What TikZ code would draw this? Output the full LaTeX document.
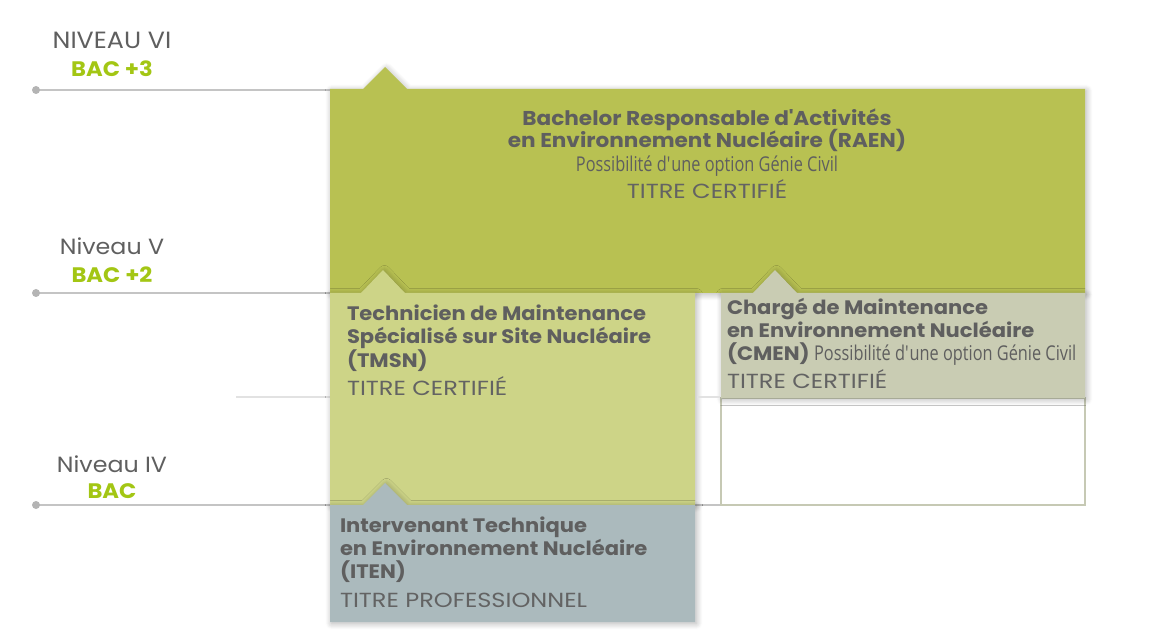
\documentclass[tikz,border=0pt]{standalone}
\usepackage{fontspec}
\setmainfont{Poppins}[FakeStretch=1.08]
\newfontfamily\titf{Poppins}[FakeStretch=1.18]
\newfontfamily\cond[FakeStretch=0.8]{Open Sans}
\usetikzlibrary{shadows.blur}
\definecolor{txt}{HTML}{5F5F5F}
\definecolor{txtl}{HTML}{636363}
\definecolor{bacg}{HTML}{A3C614}
\definecolor{raen}{HTML}{B8C152}
\definecolor{tmsn}{HTML}{CDD487}
\definecolor{cmen}{HTML}{C9CCB3}
\definecolor{iten}{HTML}{ABBABD}
\definecolor{linec}{HTML}{C4C4C4}
\definecolor{linel}{HTML}{E2E2E2}
\definecolor{dotc}{HTML}{B4B4B4}
\definecolor{wbord}{HTML}{C6C9B4}
\tikzset{
  shad/.style={blur shadow={shadow xshift=1.5pt, shadow yshift=-1.5pt, shadow blur radius=6pt, shadow opacity=30, shadow blur steps=12}},
  lvl/.style={draw=linec, line width=1.4pt},
  lvll/.style={draw=linel, line width=1.4pt},
  t/.style={inner sep=0pt, outer sep=0pt, text=txt},
  lab/.style={t, anchor=base, font=\fontsize{23.5}{23.5}\selectfont},
  labn/.style={t, anchor=base, font=\fontsize{22}{22}\selectfont},
  bac/.style={t, anchor=base, text=bacg, font=\bfseries\fontsize{21}{21}\selectfont},
  head/.style={t, font=\bfseries\fontsize{20}{20}\selectfont},
  headm/.style={t, font=\bfseries\fontsize{19.5}{20}\selectfont},
  sub/.style={t, font=\cond\fontsize{20.4}{20.4}\selectfont},
  titre/.style={t, text=txtl, font=\titf\fontsize{20.4}{20.4}\selectfont},
}
\begin{document}
\begin{tikzpicture}[x=1pt,y=-1pt]
\useasboundingbox (0,0) rectangle (1176,639);
% level lines
\draw[lvl] (36,90) -- (330,90);
\draw[lvl] (36,293) -- (330,293);
\draw[lvl] (36,505) -- (721,505);
\draw[lvll] (236,397) -- (330,397);
\fill[dotc] (36,90) circle (4pt);
\fill[dotc] (36,293) circle (4pt);
\fill[dotc] (36,505) circle (4pt);
% level labels
\node[lab] (n6) at (112,49) {NIVEAU VI};
\node[bac] (b6) at (112,77) {BAC +3};
\node[labn] (n5) at (112,255) {Niveau V};
\node[bac] (b5) at (112,283) {BAC +2};
\node[labn] (n4) at (112,472) {Niveau IV};
\node[bac] (b4) at (112,498) {BAC};
% RAEN box
\path[fill=raen, shad] (330,89) -- (363,89) -- (385,67) -- (407,89) -- (1085,89) -- (1085,293) -- (330,293) -- cycle;
\node[head, anchor=base] (r1) at (707,126) {Bachelor Responsable d\textquotesingle Activités};
\node[head, anchor=base] (r2) at (707,148) {en Environnement Nucléaire (RAEN)};
\node[sub, anchor=base] (r3) at (707,172) {Possibilité d\textquotesingle une option Génie Civil};
\node[titre, anchor=base] (r4) at (707,199) {TITRE CERTIFIÉ};
% white box below CMEN
\path[fill=white, draw=wbord, line width=1.2pt] (721,398) rectangle (1085,505);
\draw[wbord, line width=1.2pt] (721,505.5) -- (1085.5,505.5) -- (1085.5,398);
% TMSN box
\path[fill=tmsn, shad] (330,293) -- (361,293) -- (383,270) -- (405,293) -- (695,293) -- (695,505) -- (330,505) -- cycle;
\node[headm, anchor=base west] (t1) at (347,320) {Technicien de Maintenance};
\node[headm, anchor=base west] (t2) at (347,343) {Spécialisé sur Site Nucléaire};
\node[headm, anchor=base west] (t3) at (347,367) {(TMSN)};
\node[titre, anchor=base west] (t4) at (347,395) {TITRE CERTIFIÉ};
% CMEN box
\path[fill=cmen, shad] (721,293) -- (753,293) -- (775,270) -- (797,293) -- (1085,293) -- (1085,398) -- (721,398) -- cycle;
\node[headm, anchor=base west] (c1) at (727,315) {Chargé de Maintenance};
\node[headm, anchor=base west] (c2) at (727,337) {en Environnement Nucléaire};
\node[headm, anchor=base west] (c3) at (727,360) {(CMEN) {\mdseries\cond\fontsize{20.4}{20.4}\selectfont Possibilité d\textquotesingle une option Génie Civil}};
\node[titre, anchor=base west] (c4) at (727,388) {TITRE CERTIFIÉ};
\draw[lvll] (697,397) -- (720,397);
% ITEN box
\path[fill=iten, shad] (330,505) -- (363,505) -- (385,483) -- (407,505) -- (695,505) -- (695,622) -- (330,622) -- cycle;
\node[headm, anchor=base west] (i1) at (340,532) {Intervenant Technique};
\node[headm, anchor=base west] (i2) at (340,555) {en Environnement Nucléaire};
\node[headm, anchor=base west] (i3) at (340,578) {(ITEN)};
\node[titre, anchor=base west] (i4) at (340,607) {TITRE PROFESSIONNEL};
\end{tikzpicture}
\end{document}
